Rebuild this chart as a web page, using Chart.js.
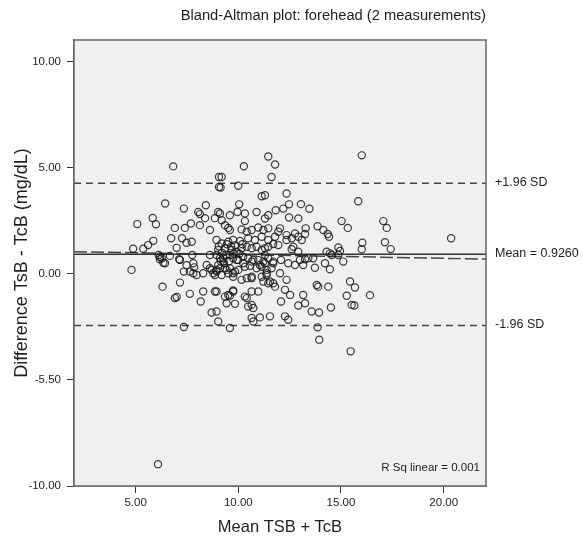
<!DOCTYPE html>
<html><head><meta charset="utf-8">
<script src="https://cdn.jsdelivr.net/npm/chart.js@4.4.0/dist/chart.umd.min.js"></script>
<style>html,body{margin:0;padding:0;background:#fff;}canvas{display:block;}</style>
</head><body>
<canvas id="c" width="583" height="538"></canvas>
<script>
const chartTitle = 'Bland-Altman plot: forehead (2 measurements)';
const xAxisTitle = 'Mean TSB + TcB';
const yAxisTitle = 'Difference TsB - TcB (mg/dL)';

const meanTsbTcb = [
6.83,9.06,9.06,6.44,7.35,8.42,8.05,8.13,5.08,5.83,5.99,6.91,7.40,7.69,8.13,8.38,8.62,8.86,6.73,7.26,
7.48,7.73,7.00,4.88,5.37,5.61,5.86,6.12,6.27,6.35,6.18,6.67,7.12,7.76,7.48,7.85,7.64,7.97,7.35,8.46,
8.62,8.78,8.94,4.80,6.31,7.16,7.64,7.00,6.91,8.29,8.17,8.86,8.70,8.94,9.02,7.35,6.09,
11.46,10.27,11.79,9.19,11.62,9.14,10.00,11.14,11.30,12.35,10.04,12.47,13.05,13.46,9.02,9.11,9.59,9.96,10.32,10.89,
11.46,11.30,11.82,12.19,12.47,12.92,15.03,15.33,13.86,14.14,14.35,14.42,10.32,9.19,9.35,9.51,9.59,10.16,10.41,10.65,
10.97,11.22,11.46,12.03,11.95,12.35,12.76,12.92,13.25,13.28,10.48,10.81,11.14,11.46,11.79,8.94,9.19,9.51,9.75,10.08,
12.35,12.60,13.09,11.95,11.70,11.46,12.68,12.60,12.92,10.16,10.41,10.65,10.89,11.14,11.30,9.02,9.35,9.68,9.92,14.30,
14.55,14.87,14.95,8.94,9.11,9.27,9.02,9.35,8.94,9.19,9.75,10.00,10.24,10.48,10.65,10.97,11.22,11.46,11.70,12.08,
12.43,12.76,13.00,13.25,13.65,13.73,14.22,14.46,15.11,9.59,9.84,10.00,10.32,10.57,10.89,11.14,11.38,11.62,10.16,10.41,
10.65,9.51,9.75,11.14,11.38,11.54,11.70,11.79,12.03,12.35,12.27,12.52,8.94,9.51,9.75,9.43,9.84,10.65,10.97,10.32,
10.48,10.65,10.73,12.08,13.16,13.25,12.92,13.82,13.89,14.38,13.57,13.93,14.51,15.44,15.28,15.52,10.65,10.73,11.05,11.54,
12.27,12.43,9.59,13.86,13.94,15.47,
16.01,15.84,17.06,17.23,16.04,16.01,17.14,17.42,20.36,15.68,16.41,15.65,
6.18,6.43,7.16,7.81,7.81,8.29,8.70,8.86,9.11,9.43,9.75,10.65,11.22,11.46,8.62,9.27,9.59,9.92,10.24,10.73,
11.05,11.30,9.35,9.59,9.75,10.41,11.30,11.70,11.38,13.16,13.41,14.46,14.87,
9.05,9.20,9.40,9.45,9.65,9.80,9.30,9.55,10.05,10.20,9.15,9.85
];
const diffTsbTcb = [
5.07,4.57,4.10,3.32,3.08,3.24,2.92,2.82,2.35,2.64,2.34,2.17,2.17,2.38,2.30,2.63,2.07,2.63,1.68,1.68,
1.47,1.52,1.23,1.19,1.19,1.36,1.56,0.89,0.74,0.53,0.69,0.85,0.69,0.89,0.41,0.31,0.11,-0.05,0.11,0.42,
0.27,0.03,0.19,0.19,-0.60,-0.41,-0.94,-1.09,-1.14,-0.83,-1.30,-0.83,-1.82,-1.77,-2.24,-2.50,-8.97,
5.54,5.08,5.16,4.57,4.57,4.07,4.16,3.66,3.71,3.79,3.28,3.28,3.29,3.07,2.92,2.85,2.77,2.92,2.85,2.92,
2.77,2.61,3.00,3.08,2.66,2.61,2.49,2.17,2.25,2.07,1.88,1.75,2.49,2.53,2.30,2.17,2.07,2.10,1.99,2.07,
2.19,2.07,2.15,2.15,1.99,1.83,1.91,1.75,1.88,2.15,1.68,1.60,1.75,1.60,1.75,1.60,1.44,1.52,1.60,1.55,
1.60,1.68,1.60,1.36,1.41,1.28,1.28,1.16,1.05,1.21,1.28,1.21,1.28,1.13,1.21,1.13,1.21,1.13,1.05,1.05,
0.89,1.25,1.08,0.89,0.74,0.58,0.42,0.27,0.11,-0.05,0.74,0.66,0.81,0.74,0.58,0.66,0.58,0.74,0.58,0.66,
0.50,0.42,0.66,0.69,0.74,0.29,0.50,0.22,0.58,0.27,0.11,0.19,0.34,0.38,0.27,0.34,0.19,0.27,-0.28,-0.20,
-0.13,0.03,-0.13,-0.13,-0.05,-0.36,-0.44,-0.60,0.03,-0.28,-0.75,-0.99,-0.83,-0.99,-0.83,-1.38,-1.41,-0.83,-0.83,-1.07,
-1.54,-1.46,-1.61,-1.30,-0.99,-1.38,-1.49,-0.52,-0.60,-0.60,-1.77,-1.82,-1.58,-0.36,-1.03,-1.46,-2.08,-2.24,-2.05,-2.00,
-2.00,-2.16,-2.55,-2.52,-3.10,-3.65,
5.59,3.43,2.49,2.17,1.47,1.16,1.49,1.17,1.68,-0.64,-1.00,-1.49,
0.81,0.50,0.66,0.50,0.03,0.03,0.19,-0.05,0.27,0.19,0.03,-0.20,-0.36,-0.44,0.89,0.74,0.89,0.66,0.50,0.66,
0.42,0.50,-1.07,-1.03,-0.78,-1.14,0.89,0.50,0.03,0.42,0.74,0.97,0.89,
1.30,1.00,0.90,1.40,1.30,0.95,0.50,0.60,0.95,1.40,0.60,1.35
];

const xTickValues = [5, 10, 15, 20];
const xTickLabels = ['5.00', '10.00', '15.00', '20.00'];
const yTickValues = [-10, -5, 0, 5, 10];
const yTickLabels = ['-10.00', '-5.50', '0.00', '5.00', '10.00'];
const xRange = [2.0, 22.06];
const yRange = [-10, 11.03];

const meanDiff = 0.926;
const upperLoA = 4.28;
const lowerLoA = -2.43;
const regressionX = [2.0, 22.06];
const regressionY = [1.05, 0.70];
const refLineValues = [upperLoA, meanDiff, lowerLoA];
const refLineLabels = ['+1.96 SD', 'Mean = 0.9260', '-1.96 SD'];
const rSqText = 'R Sq linear = 0.001';

const FONT = '"Liberation Sans", Arial, sans-serif';
const TEXT = '#1e1e1e';

const points = meanTsbTcb.map((x, i) => ({x: x, y: diffTsbTcb[i]}));
const hLine = v => [{x: xRange[0], y: v}, {x: xRange[1], y: v}];

const plotFrame = {
  id: 'plotFrame',
  beforeDatasetsDraw(chart) {
    const {ctx, chartArea: a} = chart;
    ctx.save();
    ctx.fillStyle = '#f0f1ef';
    ctx.fillRect(a.left, a.top, a.right - a.left, a.bottom - a.top);
    ctx.restore();
  },
  afterDraw(chart) {
    const {ctx, chartArea: a, scales} = chart;
    ctx.save();
    ctx.strokeStyle = '#666';
    ctx.lineWidth = 1.5;
    ctx.strokeRect(a.left, a.top, a.right - a.left, a.bottom - a.top);
    ctx.fillStyle = TEXT;
    ctx.font = '12.5px ' + FONT;
    ctx.textAlign = 'left';
    ctx.textBaseline = 'middle';
    refLineValues.forEach((v, i) => {
      ctx.fillText(refLineLabels[i], a.right + 9, scales.y.getPixelForValue(v) - 1);
    });
    ctx.font = '11.5px ' + FONT;
    ctx.textAlign = 'right';
    ctx.fillText(rSqText, a.right - 6, a.bottom - 18);
    ctx.restore();
  }
};

new Chart(document.getElementById('c'), {
  type: 'scatter',
  data: {
    datasets: [
      {
        label: 'points',
        data: points,
        pointStyle: 'circle',
        pointRadius: 3.6,
        pointBorderWidth: 1.2,
        pointBorderColor: 'rgba(25,25,25,0.85)',
        pointBackgroundColor: 'rgba(0,0,0,0)',
        order: 1
      },
      {
        label: 'mean',
        data: hLine(meanDiff),
        showLine: true, pointRadius: 0,
        borderColor: '#333', borderWidth: 1.5, order: 2
      },
      {
        label: 'upper',
        data: hLine(upperLoA),
        showLine: true, pointRadius: 0,
        borderColor: '#444', borderWidth: 1.5, borderDash: [7, 5], order: 2
      },
      {
        label: 'lower',
        data: hLine(lowerLoA),
        showLine: true, pointRadius: 0,
        borderColor: '#444', borderWidth: 1.5, borderDash: [7, 5], order: 2
      },
      {
        label: 'regression',
        data: regressionX.map((x, i) => ({x: x, y: regressionY[i]})),
        showLine: true, pointRadius: 0,
        borderColor: '#444', borderWidth: 1.5, borderDash: [13, 4], order: 2
      }
    ]
  },
  options: {
    responsive: false,
    animation: false,
    devicePixelRatio: 1,
    layout: {padding: {left: 0, top: 0, right: 97, bottom: 0}},
    plugins: {
      legend: {display: false},
      tooltip: {enabled: false},
      title: {
        display: true,
        text: chartTitle,
        align: 'end',
        color: TEXT,
        font: {family: FONT, size: 14.7, weight: 'normal', lineHeight: 1.2},
        padding: {top: 7.5, bottom: 14.86}
      }
    },
    scales: {
      x: {
        type: 'linear',
        position: 'bottom',
        min: xRange[0], max: xRange[1],
        afterBuildTicks: s => { s.ticks = xTickValues.map(v => ({value: v})); },
        afterFit: s => { s.height = 52; },
        ticks: {
          callback: (v, i) => xTickLabels[i],
          color: TEXT, padding: 3, maxRotation: 0, autoSkip: false,
          font: {family: FONT, size: 11.5}
        },
        grid: {display: true, drawOnChartArea: false, drawTicks: true, tickLength: 7, tickColor: '#333', tickWidth: 1},
        border: {display: true, color: '#666', width: 1.5},
        title: {display: true, text: xAxisTitle, color: TEXT,
          font: {family: FONT, size: 16.5, lineHeight: 1.2}, padding: {top: 0, bottom: 1.1}}
      },
      y: {
        type: 'linear',
        position: 'left',
        min: yRange[0], max: yRange[1],
        afterBuildTicks: s => { s.ticks = yTickValues.map(v => ({value: v})); },
        afterFit: s => { s.width = 74; },
        ticks: {
          callback: (v, i) => yTickLabels[i],
          color: TEXT, padding: 6, autoSkip: false,
          font: {family: FONT, size: 11.5}
        },
        grid: {display: true, drawOnChartArea: false, drawTicks: true, tickLength: 7, tickColor: '#333', tickWidth: 1},
        border: {display: true, color: '#666', width: 1.5},
        title: {display: true, text: yAxisTitle, color: TEXT,
          font: {family: FONT, size: 18, lineHeight: 1.2}, padding: {top: 11.2, bottom: 0}}
      }
    }
  },
  plugins: [plotFrame]
});
</script>
</body></html>
